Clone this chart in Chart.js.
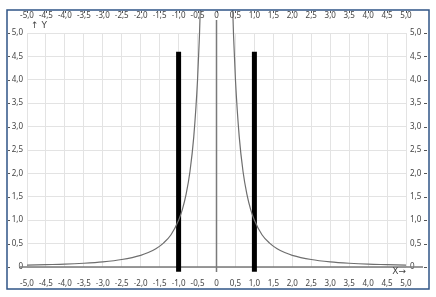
<!DOCTYPE html>
<html>
<head>
  <meta charset="UTF-8">
  <title>y = 1/x²</title>
  <script src="https://cdn.jsdelivr.net/npm/chart.js"></script>
  <style>
    body { margin: 0; background: #fff; }
    canvas { display: block; }
  </style>
</head>
<body>
  <canvas id="chart" width="436" height="297"></canvas>
  <script>
    // tick labels
    const xTickValues = [-5, -4.5, -4, -3.5, -3, -2.5, -2, -1.5, -1, -0.5, 0, 0.5, 1, 1.5, 2, 2.5, 3, 3.5, 4, 4.5, 5];
    const yTickValues = [0, 0.5, 1, 1.5, 2, 2.5, 3, 3.5, 4, 4.5, 5];

    // curve, left branch
    const leftX = [-5, -4.5, -4, -3.5, -3, -2.5, -2, -1.8, -1.6, -1.4, -1.2, -1, -0.9, -0.8, -0.7, -0.6, -0.5, -0.45, -0.4];
    const leftY = [0.04, 0.05, 0.06, 0.08, 0.11, 0.16, 0.25, 0.31, 0.39, 0.51, 0.69, 1.0, 1.23, 1.56, 2.04, 2.78, 4.0, 4.94, 6.25];
    // curve, right branch
    const rightX = [0.4, 0.45, 0.5, 0.6, 0.7, 0.8, 0.9, 1, 1.2, 1.4, 1.6, 1.8, 2, 2.5, 3, 3.5, 4, 4.5, 5];
    const rightY = [6.25, 4.94, 4.0, 2.78, 2.04, 1.56, 1.23, 1.0, 0.69, 0.51, 0.39, 0.31, 0.25, 0.16, 0.11, 0.08, 0.06, 0.05, 0.04];

    // thick black markers
    const barX = [-1, 1];
    const barBottom = -0.1;
    const barTop = 4.6;

    const fmt = v => v === 0 ? '0' : v.toFixed(1).replace('.', ',');
    const tickFont = { family: 'Noto Sans', size: 8 };
    const tickColor = '#444';

    const toPoints = (xs, ys) => xs.map((x, i) => ({ x: x, y: ys[i] }));

    const curveStyle = {
      type: 'line',
      borderColor: '#6e6e6e',
      borderWidth: 1.2,
      pointRadius: 0,
      cubicInterpolationMode: 'monotone',
      clip: { left: 0, top: 23, right: 0, bottom: 0 }
    };

    const datasets = [
      Object.assign({ data: toPoints(leftX, leftY) }, curveStyle),
      Object.assign({ data: toPoints(rightX, rightY) }, curveStyle)
    ];
    barX.forEach(x => {
      datasets.push({
        type: 'line',
        data: [{ x: x, y: barBottom }, { x: x, y: barTop }],
        borderColor: '#000',
        borderWidth: 5,
        borderCapStyle: 'butt',
        pointRadius: 0,
        clip: { left: 0, top: 0, right: 0, bottom: 8 }
      });
    });

    // zero axes, border, small tick marks and the axis names
    const decor = {
      id: 'decor',
      beforeDatasetsDraw(chart) {
        const ctx = chart.ctx, a = chart.chartArea;
        const x0 = chart.scales.x.getPixelForValue(0);
        const y0 = chart.scales.y.getPixelForValue(0);
        ctx.save();
        ctx.strokeStyle = '#7a7a7a';
        ctx.lineWidth = 1.5;
        ctx.beginPath();
        ctx.moveTo(a.left - 7, y0);
        ctx.lineTo(a.right + 17, y0);
        ctx.moveTo(x0, a.top - 13);
        ctx.lineTo(x0, a.bottom + 5);
        ctx.stroke();
        ctx.restore();
      },
      afterDraw(chart) {
        const ctx = chart.ctx, a = chart.chartArea;
        ctx.save();
        ctx.strokeStyle = '#555';
        ctx.lineWidth = 1;
        ctx.beginPath();
        chart.scales.y.ticks.forEach(t => {
          const p = Math.round(chart.scales.y.getPixelForValue(t.value)) + 0.5;
          ctx.moveTo(8, p); ctx.lineTo(10, p);
          ctx.moveTo(424, p); ctx.lineTo(427, p);
        });
        chart.scales.x.ticks.forEach(t => {
          const p = Math.round(chart.scales.x.getPixelForValue(t.value)) + 0.5;
          ctx.moveTo(p, 11); ctx.lineTo(p, 13);
        });
        ctx.stroke();

        ctx.strokeStyle = '#2f5486';
        ctx.lineWidth = 1.5;
        ctx.strokeRect(7, 10, 422, 279);

        ctx.fillStyle = '#444';
        ctx.font = '9px "DejaVu Sans"';
        ctx.textBaseline = 'middle';
        ctx.textAlign = 'left';
        ctx.fillText('↑ Y', a.left + 4, 26);
        ctx.textAlign = 'right';
        ctx.fillText('X→', a.right, a.bottom + 5);
        ctx.restore();
      }
    };

    const fixSize = (w, h) => s => {
      if (w !== null) s.width = w;
      if (h !== null) s.height = h;
    };
    const setTicks = vals => s => { s.ticks = vals.map(v => ({ value: v })); };

    new Chart(document.getElementById('chart'), {
      type: 'line',
      data: { datasets: datasets },
      plugins: [decor],
      options: {
        responsive: false,
        animation: false,
        layout: { padding: 0 },
        plugins: { legend: { display: false }, tooltip: { enabled: false } },
        scales: {
          x: {
            type: 'linear', position: 'bottom', min: -5, max: 5,
            afterBuildTicks: setTicks(xTickValues),
            afterFit: fixSize(null, 30),
            grid: { color: '#e3e3e3', drawTicks: false },
            border: { display: false },
            ticks: { font: tickFont, color: tickColor, padding: 12, maxRotation: 0, autoSkip: false, callback: fmt }
          },
          x2: {
            type: 'linear', position: 'top', min: -5, max: 5,
            afterBuildTicks: setTicks(xTickValues),
            afterFit: fixSize(null, 33),
            grid: { display: false, drawTicks: false },
            border: { display: false },
            ticks: { font: tickFont, color: tickColor, padding: 12, maxRotation: 0, autoSkip: false, callback: fmt }
          },
          y: {
            type: 'linear', position: 'left', min: 0, max: 5,
            afterBuildTicks: setTicks(yTickValues),
            afterFit: fixSize(27, null),
            grid: { color: '#e3e3e3', drawTicks: false },
            border: { display: false },
            ticks: { font: tickFont, color: tickColor, padding: 4, autoSkip: false, callback: fmt }
          },
          y2: {
            type: 'linear', position: 'right', min: 0, max: 5,
            afterBuildTicks: setTicks(yTickValues),
            afterFit: fixSize(30, null),
            grid: { display: false, drawTicks: false },
            border: { display: false },
            ticks: { font: tickFont, color: tickColor, padding: 4, autoSkip: false, callback: fmt }
          }
        }
      }
    });
  </script>
</body>
</html>
